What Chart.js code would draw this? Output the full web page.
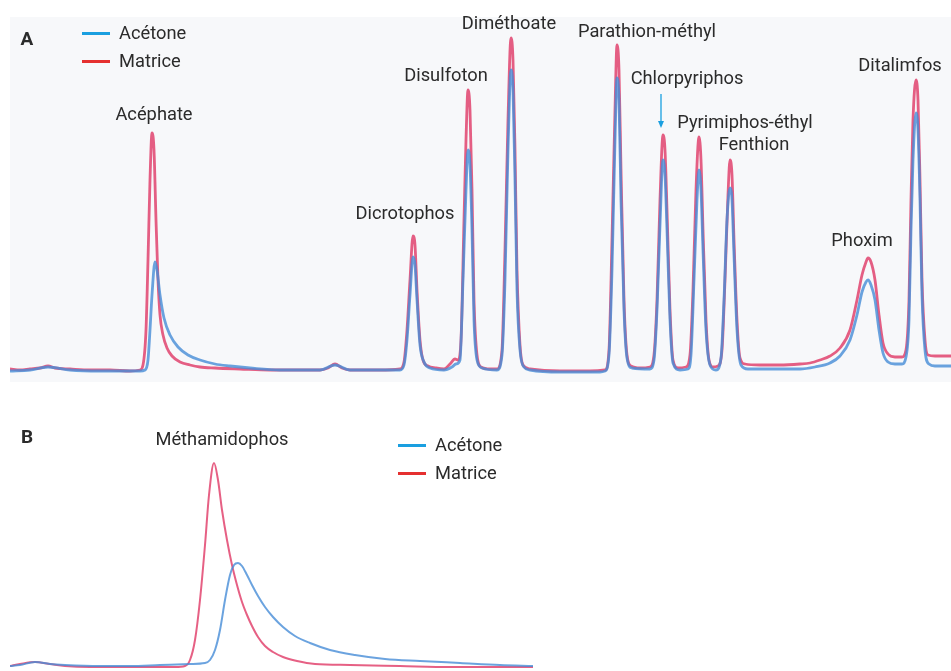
<!DOCTYPE html>
<html>
<head>
<meta charset="utf-8">
<script src="https://cdn.jsdelivr.net/npm/chart.js@4"></script>
<style>
  body { margin: 0; background: #fff; font-family: Roboto, "Noto Sans", sans-serif; color: #2b2b2b; }
  #page { position: relative; width: 951px; height: 671px; overflow: hidden; }
  canvas { position: absolute; }
  #chartA { left: 10px; top: 17px; background: #f7f8fa; }
  #chartB { left: 10px; top: 400px; }
  .lbl { position: absolute; font-size: 18.3px; white-space: nowrap; transform: translate(-50%, -50%); }
  .panel { position: absolute; font-size: 19px; font-weight: bold; transform: translate(-50%, -50%); }
  .leg { position: absolute; font-size: 18.3px; white-space: nowrap; }
  .leg span { display: inline-block; width: 28px; height: 3px; vertical-align: middle; margin-right: 9px; position: relative; top: -1px; }
</style>
</head>
<body>
<div id="page">
  <canvas id="chartA" width="941" height="365"></canvas>
  <canvas id="chartB" width="523" height="271"></canvas>

  <div class="panel" style="left:27px; top:38px;">A</div>
  <div class="leg" style="left:82px; top:22px;"><span style="background:#1a9fe0"></span>Acétone</div>
  <div class="leg" style="left:82px; top:50px;"><span style="background:#e53030"></span>Matrice</div>

  <div class="panel" style="left:27px; top:436px;">B</div>
  <div class="leg" style="left:398px; top:434px;"><span style="background:#1a9fe0"></span>Acétone</div>
  <div class="leg" style="left:398px; top:462px;"><span style="background:#e53030"></span>Matrice</div>
  <div class="lbl" style="left:222px; top:438px;">Méthamidophos</div>

  <div id="labelsA"></div>

  <svg style="position:absolute; left:0; top:0;" width="951" height="671">
    <line x1="661" y1="94" x2="661" y2="122" stroke="#1a9fe0" stroke-width="1.3"/>
    <polygon points="658,121 664,121 661,128" fill="#1a9fe0"/>
  </svg>
</div>

<script>
// Panel A peak labels: name, centre x, centre y (page pixels)
const peakNamesA = ['Acéphate', 'Dicrotophos', 'Disulfoton', 'Diméthoate', 'Parathion-méthyl',
  'Chlorpyriphos', 'Pyrimiphos-éthyl', 'Fenthion', 'Phoxim', 'Ditalimfos'];
const peakLabelX = [154, 405, 446, 509, 647, 687, 745, 754, 862, 900];
const peakLabelY = [113, 212, 74, 22, 30, 77, 121, 143, 239, 64];

// Panel A chromatograms: [time, signal]
const acetoneA = [
  [10,371],[30,370],[48,367],[70,370],[100,371],[140,371],[145,370],[148,360],[150,330],[152,295],
  [155,262],[157,270],[160,295],[164,318],[170,335],[178,347],[188,355],[200,360],[215,364],[230,366],
  [250,368],[280,370],[320,370],[335,365],[350,370],[400,370],[404,365],[407,340],[410,295],[413,257],
  [415,265],[417,300],[420,345],[424,362],[430,368],[444,370],[452,367],[456,364],[460,360],[463,280],
  [466,190],[468,150],[470,165],[472,230],[474,320],[477,360],[482,368],[497,370],[502,355],[505,280],
  [508,150],[511,70],[513,90],[515,180],[517,290],[520,350],[524,367],[530,370],[560,372],[600,372],
  [605,371],[609,355],[612,270],[615,140],[617,78],[619,100],[621,200],[624,310],[627,358],[632,368],
  [650,369],[654,360],[657,310],[660,225],[663,160],[665,175],[667,230],[670,320],[673,363],[680,370],
  [688,369],[691,355],[694,280],[697,200],[699,170],[701,190],[703,250],[706,330],[710,365],[716,370],
  [721,358],[724,300],[727,220],[730,188],[732,200],[734,255],[737,330],[741,365],[748,369],[780,369],
  [800,369],[815,367],[830,363],[840,356],[850,340],[857,315],[862,292],[866,282],[868,280],[871,285],
  [875,300],[879,330],[883,353],[888,362],[895,364],[902,364],[906,357],[909,320],[911,230],[913,160],
  [916,113],[918,130],[920,200],[922,295],[925,350],[929,364],[935,366],[951,366]
];
const matriceA = [
  [10,369],[20,370],[30,369],[40,368],[48,366],[55,368],[70,369],[90,370],[110,370],[130,371],
  [140,370],[143,365],[146,330],[148,260],[150,180],[152,133],[154,150],[156,220],[158,280],[160,315],
  [163,335],[167,348],[172,356],[180,362],[190,365],[200,367],[215,368],[240,369],[270,370],[300,370],
  [320,370],[328,368],[335,364],[342,368],[350,370],[380,370],[400,369],[404,362],[407,330],[410,280],
  [413,236],[415,245],[417,290],[420,340],[423,360],[428,366],[436,368],[444,369],[450,364],[455,359],
  [458,360],[461,340],[464,220],[466,140],[468,90],[470,110],[472,190],[474,300],[477,355],[481,367],
  [490,369],[497,369],[502,350],[505,250],[508,120],[511,38],[513,60],[515,150],[517,270],[520,345],
  [523,365],[530,369],[560,371],[590,371],[605,370],[609,350],[612,240],[615,110],[617,45],[619,70],
  [621,170],[624,300],[627,355],[631,366],[640,368],[650,367],[654,355],[657,300],[660,200],[663,135],
  [665,150],[667,210],[670,310],[673,360],[678,368],[686,367],[690,355],[693,290],[696,190],[699,137],
  [701,160],[703,230],[706,320],[709,360],[713,367],[718,366],[722,350],[725,280],[728,195],[730,160],
  [732,175],[734,240],[737,320],[740,358],[745,364],[760,365],[780,365],[800,364],[810,363],[820,360],
  [830,356],[840,348],[850,330],[857,300],[862,275],[866,262],[868,258],[871,262],[875,280],[879,315],
  [883,343],[888,354],[895,357],[902,357],[906,350],[909,300],[911,200],[913,120],[916,80],[918,100],
  [920,180],[922,280],[925,340],[928,355],[935,356],[951,356]
];

// Panel B chromatograms (Méthamidophos)
const acetoneB = [
  [10,666],[20,665],[35,662],[50,664],[65,665],[100,666],[130,666],[160,665],[190,664],[205,663],
  [210,660],[215,650],[220,630],[225,600],[230,575],[234,565],[238,563],[242,566],[247,575],[252,585],
  [258,596],[265,607],[273,617],[283,627],[295,636],[310,643],[330,650],[355,655],[385,659],[420,661],
  [460,663],[500,665],[533,666]
];
const matriceB = [
  [10,666],[20,664],[35,662],[50,664],[65,666],[90,667],[120,667],[150,667],[175,667],[185,666],
  [190,660],[195,640],[200,600],[205,545],[209,495],[214,463],[218,480],[222,510],[227,540],[232,565],
  [237,585],[242,602],[247,615],[252,626],[258,637],[265,646],[273,652],[283,657],[297,661],[315,664],
  [350,665],[400,666],[450,667],[533,667]
];

const labelsDiv = document.getElementById('labelsA');
peakNamesA.forEach((name, i) => {
  const d = document.createElement('div');
  d.className = 'lbl';
  d.style.left = peakLabelX[i] + 'px';
  d.style.top = peakLabelY[i] + 'px';
  d.textContent = name;
  labelsDiv.appendChild(d);
});

// signal is stored as image row; convert against the panel bottom
function toPoints(arr, bottom) {
  return arr.map(p => ({ x: p[0], y: bottom - p[1] }));
}

function makeChart(id, blue, red, xMin, xMax, yMax, width) {
  new Chart(document.getElementById(id), {
    type: 'line',
    data: {
      datasets: [
        {
          label: 'Acétone',
          data: blue,
          borderColor: 'rgba(70, 140, 215, 0.8)',
          borderWidth: width,
          pointRadius: 0,
          cubicInterpolationMode: 'monotone'
        },
        {
          label: 'Matrice',
          data: red,
          borderColor: 'rgba(220, 35, 85, 0.72)',
          borderWidth: width,
          pointRadius: 0,
          cubicInterpolationMode: 'monotone'
        }
      ]
    },
    options: {
      responsive: false,
      animation: false,
      layout: { padding: 0 },
      plugins: { legend: { display: false }, tooltip: { enabled: false } },
      scales: {
        x: { type: 'linear', min: xMin, max: xMax, display: false },
        y: { min: 0, max: yMax, display: false }
      }
    }
  });
}

makeChart('chartA', toPoints(acetoneA, 382), toPoints(matriceA, 382), 10, 951, 365, 2.8);
makeChart('chartB', toPoints(acetoneB, 671), toPoints(matriceB, 671), 10, 533, 271, 2);
</script>
</body>
</html>
